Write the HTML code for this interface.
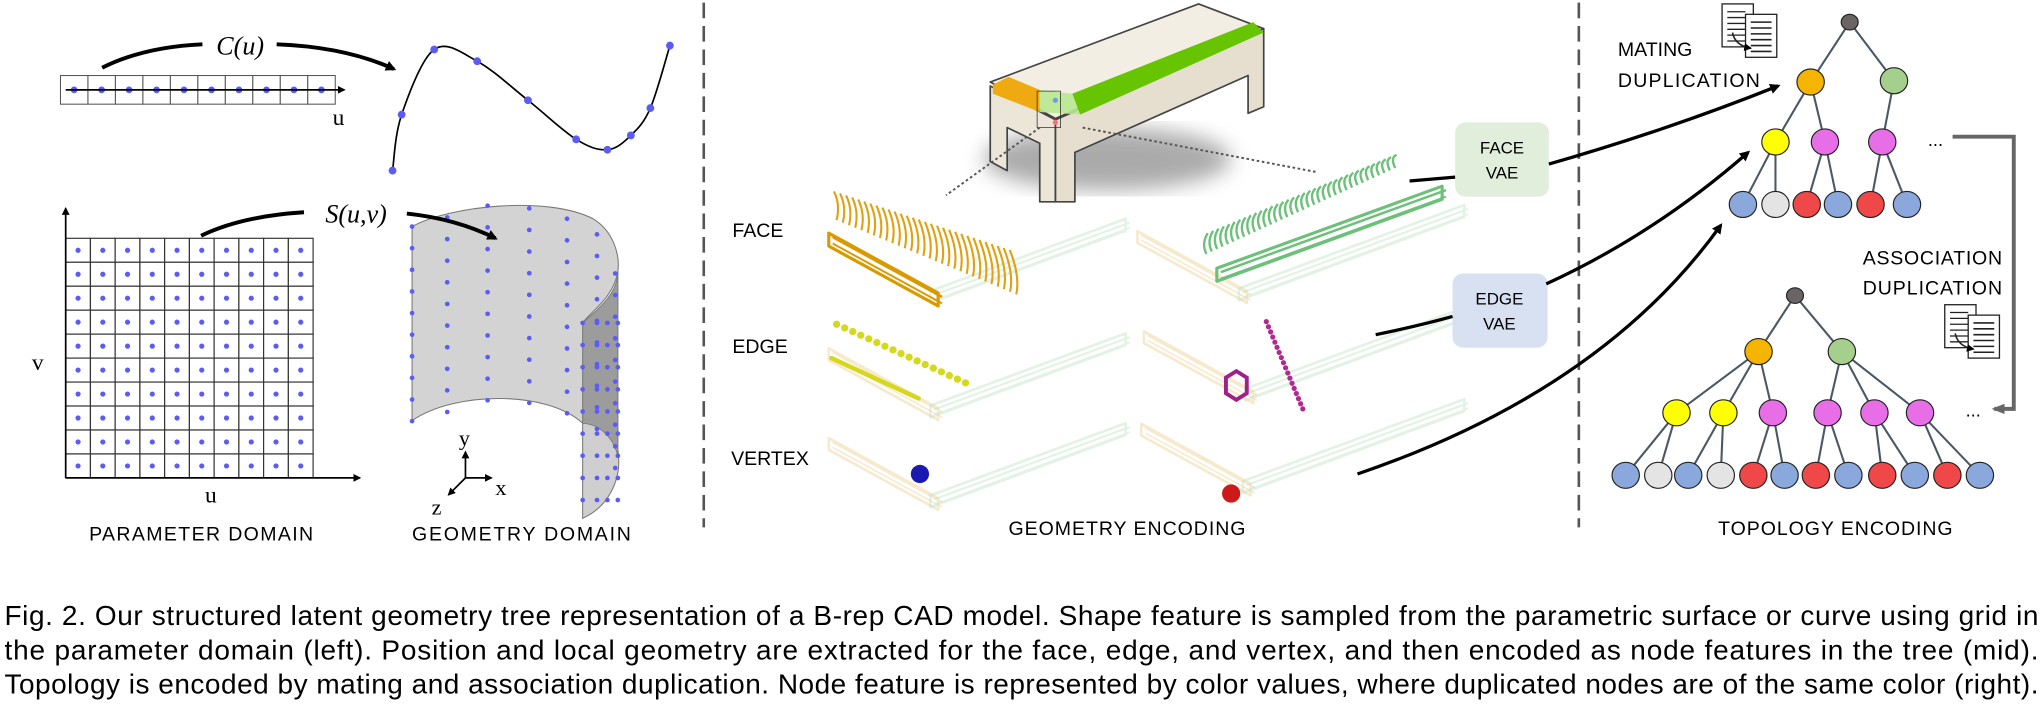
<!DOCTYPE html>
<html><head><meta charset="utf-8"><style>
html,body{margin:0;padding:0;background:#fff}
svg{display:block}
text{font-family:"Liberation Sans",sans-serif}
</style></head><body>
<svg id="fig" width="2043" height="711" viewBox="0 0 1568 546" xmlns="http://www.w3.org/2000/svg">
<defs>
<marker id="ah" markerWidth="8" markerHeight="8" refX="6" refY="4" orient="auto" markerUnits="userSpaceOnUse"><path d="M0,0 L8,4 L0,8 Z" fill="#000"/></marker>
<marker id="ahs" markerWidth="6" markerHeight="6" refX="5" refY="3" orient="auto" markerUnits="userSpaceOnUse"><path d="M0,0 L6,3 L0,6 Z" fill="#000"/></marker>
<marker id="ahg" markerWidth="10" markerHeight="8" refX="8" refY="4" orient="auto" markerUnits="userSpaceOnUse"><path d="M0,0 L10,4 L0,8 Z" fill="#666"/></marker>
<filter id="blur"><feGaussianBlur stdDeviation="8"/></filter>
</defs>

<line x1="540" y1="2" x2="540" y2="405" stroke="#555" stroke-width="2" stroke-dasharray="12,6"/>
<line x1="1212" y1="2" x2="1212" y2="405" stroke="#555" stroke-width="2" stroke-dasharray="12,6"/>

<g id="left">
  <g id="param-line"></g>
  <line x1="50" y1="69" x2="264" y2="69" stroke="#000" stroke-width="1.3" marker-end="url(#ahs)"/>
  <text x="255" y="96" font-size="18" style="font-family:'Liberation Serif',serif">u</text>
  <path d="M78,52 Q110,36 155,34" stroke="#000" stroke-width="3" fill="none"/>
  <path d="M212,34 Q265,36 302,53" stroke="#000" stroke-width="3" fill="none" marker-end="url(#ah)"/>
  <text x="184" y="42" text-anchor="middle" font-size="20" font-style="italic" style="font-family:'Liberation Serif',serif">C(u)</text>
  <path id="curve" fill="none" stroke="#000" stroke-width="1.3"/>
  <g id="curve-pts"></g>

  <g id="grid"></g>
  <line x1="50" y1="367" x2="50" y2="160" stroke="#000" stroke-width="1.3" marker-end="url(#ahs)"/>
  <line x1="50" y1="367" x2="276" y2="367" stroke="#000" stroke-width="1.3" marker-end="url(#ahs)"/>
  <text x="24" y="284" font-size="18" style="font-family:'Liberation Serif',serif">v</text>
  <text x="157" y="386" font-size="18" style="font-family:'Liberation Serif',serif">u</text>

  <g>
    <path d="M447,248 C458,238 474,226 474,209 L474,345 C478,370 465,390 447,398 Z" fill="#cfcfcf" stroke="#777" stroke-width="0.8"/>
    <path d="M447,248 C458,238 474,226 474,209 L474,350 C470,335 460,326 447,325 Z" fill="#9c9c9c" stroke="#777" stroke-width="0.6"/>
    <path d="M316,174 C345,158 420,150 455,168 C470,177 476,195 474,209 C470,230 452,240 447,248 L447,325 C420,300 350,300 316,323 Z" fill="#d3d3d3" stroke="#777" stroke-width="0.8"/>
  </g>
  <g id="surf-pts"></g>
  <path d="M154,181 Q185,166 233,163" stroke="#000" stroke-width="3" fill="none"/>
  <path d="M312,164 Q350,168 380,183" stroke="#000" stroke-width="3" fill="none" marker-end="url(#ah)"/>
  <text x="273" y="171" text-anchor="middle" font-size="20" font-style="italic" style="font-family:'Liberation Serif',serif">S(u,v)</text>
  <g stroke="#000" stroke-width="1.3">
    <line x1="357" y1="367" x2="357" y2="347" marker-end="url(#ahs)"/>
    <line x1="357" y1="367" x2="377" y2="367" marker-end="url(#ahs)"/>
    <line x1="357" y1="367" x2="344" y2="380" marker-end="url(#ahs)"/>
  </g>
  <text x="352" y="342" font-size="17" style="font-family:'Liberation Serif',serif">y</text>
  <text x="380" y="380" font-size="17" style="font-family:'Liberation Serif',serif">x</text>
  <text x="331" y="395" font-size="17" style="font-family:'Liberation Serif',serif">z</text>
  <text x="154" y="415" text-anchor="middle" font-size="15" textLength="172">PARAMETER DOMAIN</text>
  <text x="400" y="415" text-anchor="middle" font-size="15" textLength="168">GEOMETRY DOMAIN</text>
</g>

<g id="mid">
  <ellipse cx="850" cy="122" rx="95" ry="24" fill="#666" opacity="0.55" filter="url(#blur)"/>
  <g stroke="#444" stroke-width="1.3" stroke-linejoin="round">
    <polygon points="810,92 970,22 970,82 958,87 958,58 825,117 825,155 810,155" fill="#e6dfcf"/>
    <polygon points="760,66 810,92 810,155 798,155 798,110 773,98 773,131 760,124" fill="#ece6d8"/>
    <polygon points="760,63 920,3 970,22 810,91" fill="#f3eee3"/>
    <polygon points="823,72 962,17 970,25 829,88" fill="#66c400" stroke="none"/>
    <polygon points="762,65 774,59 798,69 798,86 762,72" fill="#eeaa10" stroke="none"/>
    <polygon points="798,69 823,72 829,88 798,86" fill="#b8e890" stroke="none" opacity="0.9"/>
    <rect x="796" y="70" width="18" height="28" fill="none" stroke="#333" stroke-width="0.6"/>
    <circle cx="810" cy="77" r="2" fill="#6fa0d8" stroke="none"/>
    <circle cx="810" cy="94" r="2" fill="#f07080" stroke="none"/>
  </g>
  <line x1="798" y1="98" x2="726" y2="150" stroke="#555" stroke-width="1.5" stroke-dasharray="2,2"/>
  <line x1="831" y1="98" x2="1010" y2="132" stroke="#555" stroke-width="1.5" stroke-dasharray="2,2"/>
  <g id="slots"></g>
  <g id="arcs"></g>
  <g id="edgepts"></g>
  <circle cx="706" cy="364" r="7" fill="#1a1ab0"/>
  <circle cx="945" cy="379" r="7" fill="#cc1a1a"/>
  <text x="562" y="182" font-size="15">FACE</text>
  <text x="562" y="271" font-size="15">EDGE</text>
  <text x="561" y="357" font-size="15">VERTEX</text>
  <text x="865" y="411" text-anchor="middle" font-size="15" textLength="182">GEOMETRY ENCODING</text>
  <rect x="1117" y="94" width="72" height="57" rx="8" fill="#e1eedb"/>
  <text x="1153" y="118" text-anchor="middle" font-size="13">FACE</text>
  <text x="1153" y="137" text-anchor="middle" font-size="13">VAE</text>
  <rect x="1115" y="210" width="73" height="57" rx="8" fill="#d8e1f2"/>
  <text x="1151" y="234" text-anchor="middle" font-size="13">EDGE</text>
  <text x="1151" y="253" text-anchor="middle" font-size="13">VAE</text>
  <path d="M1082,139 L1117,136" stroke="#000" stroke-width="2.5" fill="none"/>
  <path d="M1056,257 Q1090,250 1115,243" stroke="#000" stroke-width="2.5" fill="none"/>
  <path d="M1189,126 Q1280,100 1365,66" stroke="#000" stroke-width="2.5" fill="none" marker-end="url(#ah)"/>
  <path d="M1187,218 Q1270,180 1342,117" stroke="#000" stroke-width="2.5" fill="none" marker-end="url(#ah)"/>
  <path d="M1042,364 Q1230,300 1321,173" stroke="#000" stroke-width="2.5" fill="none" marker-end="url(#ah)"/>
</g>

<g id="right">
  <g id="trees"></g>
  <text x="1242" y="43" font-size="15">MATING</text>
  <text x="1242" y="67" font-size="15" textLength="109">DUPLICATION</text>
  <text x="1430" y="203" font-size="15" textLength="107">ASSOCIATION</text>
  <text x="1430" y="226" font-size="15" textLength="107">DUPLICATION</text>
  <g id="doc1"></g>
  <g id="doc2"></g>
  <text x="1480" y="112" font-size="14">...</text>
  <text x="1509" y="320" font-size="14">...</text>
  <path d="M1499,105 L1546,105 L1546,314 L1531,314" stroke="#666" stroke-width="3" fill="none" marker-end="url(#ahg)"/>
  <text x="1409" y="411" text-anchor="middle" font-size="15" textLength="180">TOPOLOGY ENCODING</text>
</g>

<g font-size="21.5">
<text x="3" y="480" textLength="1562" lengthAdjust="spacing">Fig. 2.  Our structured latent geometry tree representation of a B-rep CAD model. Shape feature is sampled from the parametric surface or curve using grid in</text>
<text x="3" y="506.5" textLength="1562" lengthAdjust="spacing">the parameter domain (left). Position and local geometry are extracted for the face, edge, and vertex, and then encoded as node features in the tree (mid).</text>
<text x="3" y="532.5" textLength="1562" lengthAdjust="spacing">Topology is encoded by mating and association duplication. Node feature is represented by color values, where duplicated nodes are of the same color (right).</text>
</g>
</svg>
<script>
const NS='http://www.w3.org/2000/svg';
function mk(tag,attrs,parent){const e=document.createElementNS(NS,tag);for(const k in attrs)e.setAttribute(k,attrs[k]);parent.appendChild(e);return e;}
const DOT='#5a5cf5';
const curvePts=[[301,131],[308,88],[333,38],[366,47],[405,77],[442,107],[466,115],[484,104],[499,83],[514,35]];
const gridCols=10, gridRows=10;
const tree1Nodes=[[1420,17,'#6b6464',6],[1390,63,'#f5b400',10],[1454,62,'#a5cf8c',10],[1363,109,'#ffff00',10],[1401,109,'#e86ee8',10],[1445,109,'#e86ee8',10],
 [1338,157,'#8aa8dc',10],[1363,157,'#e4e4e4',10],[1387,157,'#f04848',10],[1411,157,'#8aa8dc',10],[1436,157,'#f04848',10],[1464,157,'#8aa8dc',10]];
const tree1Edges=[[0,1],[0,2],[1,3],[1,4],[2,5],[3,6],[3,7],[4,8],[4,9],[5,10],[5,11]];
const tree2Nodes=[[1378,227,'#6b6464',6],[1350,270,'#f5b400',10],[1414,270,'#a5cf8c',10],
 [1287,317,'#ffff00',10],[1323,317,'#ffff00',10],[1361,317,'#e86ee8',10],[1403,317,'#e86ee8',10],[1439,317,'#e86ee8',10],[1474,317,'#e86ee8',10],
 [1248,365,'#8aa8dc',10],[1273,365,'#e4e4e4',10],[1296,365,'#8aa8dc',10],[1321,365,'#e4e4e4',10],[1346,365,'#f04848',10],[1370,365,'#8aa8dc',10],
 [1394,365,'#f04848',10],[1419,365,'#8aa8dc',10],[1445,365,'#f04848',10],[1470,365,'#8aa8dc',10],[1495,365,'#f04848',10],[1520,365,'#8aa8dc',10]];
const tree2Edges=[[0,1],[0,2],[1,3],[1,4],[1,5],[2,6],[2,7],[2,8],[3,9],[3,10],[4,11],[4,12],[5,13],[5,14],[6,15],[6,16],[7,17],[7,18],[8,19],[8,20]];

const pl=document.getElementById('param-line');
for(let i=0;i<10;i++){
 const r=mk('rect',{x:46+i*21.1,y:58,width:21.1,height:22,fill:'#fff',stroke:'#555','stroke-width':0.8},pl);
 
 
}
for(let i=0;i<10;i++){
 const c=mk('circle',{cx:56.5+i*21.1,cy:69,r:2.6,fill:DOT},pl);
 
 
}
let d='M'+curvePts[0][0]+','+curvePts[0][1];
for(let i=0;i<curvePts.length-1;i++){
 const p0=curvePts[Math.max(0,i-1)],p1=curvePts[i],p2=curvePts[i+1],p3=curvePts[Math.min(curvePts.length-1,i+2)];
 d+=` C${p1[0]+(p2[0]-p0[0])/6},${p1[1]+(p2[1]-p0[1])/6} ${p2[0]-(p3[0]-p1[0])/6},${p2[1]-(p3[1]-p1[1])/6} ${p2[0]},${p2[1]}`;
}
document.getElementById('curve').setAttribute('d',d);
const cp=document.getElementById('curve-pts');
curvePts.forEach(p=>{const c=mk('circle',{cx:p[0],cy:p[1],r:3,fill:DOT},cp);
 
 });
const g=document.getElementById('grid');
const gx0=50,gy0=183,cw=19,ch=18.4;
for(let r=0;r<gridRows;r++)for(let c=0;c<gridCols;c++){
 const rc=mk('rect',{x:gx0+c*cw,y:gy0+r*ch,width:cw,height:ch,fill:'#fff',stroke:'#333','stroke-width':0.9},g);
 
 
 const dt=mk('circle',{cx:gx0+c*cw+cw/2,cy:gy0+r*ch+ch/2,r:2,fill:DOT},g);
 
 
}
const sp=document.getElementById('surf-pts');
const sCols=[[316,174],[343,167],[374,158],[406,160],[435,168],[458,180],[472,210]];
sCols.forEach((col,ci)=>{for(let r=0;r<10;r++){const y=col[1]+r*16.6; if(y>325&&ci<5) continue;
 const c=mk('circle',{cx:col[0],cy:y,r:1.8,fill:DOT},sp);
 
 }});
[447,458,466,474].forEach(x=>{for(let r=0;r<9;r++){const c=mk('circle',{cx:x,cy:248+r*17,r:1.8,fill:DOT},sp);
 
 }});

const slotsG=document.getElementById('slots');
function band(x1,y1,x2,y2,w,col,op,sw,name){
 const gg=mk('g',{opacity:op},slotsG);
 
 
 const h=w/2;
 mk('polygon',{points:`${x1},${y1-h} ${x2},${y2-h} ${x2},${y2+h} ${x1},${y1+h}`,fill:'none',stroke:col,'stroke-width':sw,'stroke-linejoin':'round'},gg);
 mk('line',{x1:x1+3,y1:y1-h+3,x2:x2+3,y2:y2-h+3,stroke:col,'stroke-width':sw*0.8},gg);
 mk('line',{x1:x1+3,y1:y1+h-2,x2:x2+3,y2:y2+h-2,stroke:col,'stroke-width':sw*0.6},gg);
}
const slots=[[636,184,150,0],[873,182,173,1],[636,272,150,0],[878,259,170,1],[636,341,150,0],[876,330,170,1]];
slots.forEach((s,i)=>{
 const [x,y,L,right]=s;
 band(x,y,x+84,y+46,9,'#f1d8a4',0.55,2,'faint-orange-box');
 band(x+78,y+44,x+78+L,y+44-L*0.37,9,'#bfe3c4',0.45,2,'faint-green-box');
});
band(636,184,720,230,10,'#d99a00',1,2.4,'face-box-orange');
band(934,211,1107,148,10,'#6cc07a',1,2.4,'face-box-green');
const ag=document.getElementById('arcs');
for(let i=0;i<30;i++){const t=i/29;const x=640+t*135,y=147+t*45;
 const p=mk('path',{d:`M${x},${y} q${5+t*3},${10+t*10} ${2+t*3},${22+t*12}`,stroke:'#e0a010','stroke-width':1.6,fill:'none'},ag);
 
 }
for(let i=0;i<36;i++){const t=i/35;const x=926+t*145,y=195-t*66;
 const p=mk('path',{d:`M${x},${y} q${-4},${-8} ${1},${-16+t*6}`,stroke:'#6cc07a','stroke-width':1.8,fill:'none'},ag);
 
 }
const eg=document.getElementById('edgepts');
for(let i=0;i<17;i++){const t=i/16;const c=mk('circle',{cx:642+t*99,cy:249+t*45,r:2.8,fill:'#d6d81e'},eg);
 
 }
const yb=mk('line',{x1:638,y1:275,x2:705,y2:306,stroke:'#d6d81e','stroke-width':3.5,'stroke-linecap':'round'},eg);


for(let i=0;i<18;i++){const t=i/17;const c=mk('circle',{cx:972+t*28,cy:247+t*67,r:2,fill:'#b02890'},eg);
 
 }
const hx=mk('polygon',{points:'949,285 957,290 957,302 949,307 941,302 941,290',fill:'none',stroke:'#a0208a','stroke-width':3},eg);



const tg=document.getElementById('trees');
function tree(nodes,edges,name){
 const gg=mk('g',{},tg);
 
 
 edges.forEach(e=>{const a=nodes[e[0]],b=nodes[e[1]];
  const l=mk('line',{x1:a[0],y1:a[1],x2:b[0],y2:b[1],stroke:'#4a5866','stroke-width':1.6},gg);
  
  });
 nodes.forEach(n=>{const c=mk('ellipse',{cx:n[0],cy:n[1],rx:n[3]+0.5,ry:n[3],fill:n[2],stroke:'#222','stroke-width':0.9},gg);
  
  });
}
tree(tree1Nodes,tree1Edges,'mating-tree');
tree(tree2Nodes,tree2Edges,'association-tree');
function doc(gid,x,y){const gg=document.getElementById(gid);
 mk('rect',{x:x,y:y,width:24,height:33,fill:'#fff',stroke:'#222','stroke-width':1},gg);
 for(let i=0;i<6;i++)mk('line',{x1:x+4,y1:y+6+i*4.5,x2:x+18,y2:y+6+i*4.5,stroke:'#222','stroke-width':1},gg);
 mk('rect',{x:x+18,y:y+8,width:24,height:33,fill:'#fff',stroke:'#222','stroke-width':1},gg);
 for(let i=0;i<6;i++)mk('line',{x1:x+22,y1:y+14+i*4.5,x2:x+38,y2:y+14+i*4.5,stroke:'#222','stroke-width':1.2},gg);
 mk('path',{d:`M${x+8},${y+22} q2,10 14,12`,stroke:'#222','stroke-width':1.2,fill:'none','marker-end':'url(#ahs)'},gg);
}
doc('doc1',1322,3);
doc('doc2',1493,234);
</script>
</body></html>
